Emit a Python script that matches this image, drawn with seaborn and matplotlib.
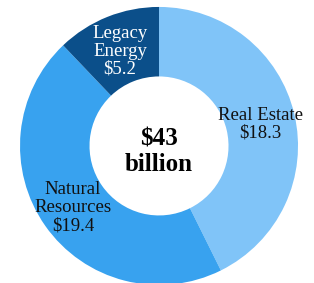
import matplotlib
matplotlib.use("Agg")
import matplotlib.pyplot as plt
import seaborn as sns

# values in $ billion, drawn clockwise from 12 o'clock
sectors = ["Real Estate", "Natural Resources", "Legacy Energy"]
labels  = ["Real Estate\n$18.3", "Natural\nResources\n$19.4", "Legacy\nEnergy\n$5.2"]
values  = [18.3, 19.4, 5.2]
colors  = ["#80C4F8", "#38A2EF", "#0B4F8A"]
total_label = "$43\nbillion"

sns.set_style("white")
plt.rcParams["font.family"] = ["Liberation Serif", "DejaVu Serif"]

fig = plt.figure(figsize=(3.14, 2.83), dpi=100)
ax = fig.add_axes([0, 0, 1, 1])

wedges, _ = ax.pie(
    values, colors=colors, startangle=90, counterclock=False,
    radius=1.0, wedgeprops={"width": 0.5, "linewidth": 0},
)

# label positions / colours per wedge
pos = [(0.73, 0.155), (-0.62, -0.446), (-0.28, 0.68)]
txt_col = ["#111111", "#111111", "white"]
for (x, y), lab, c in zip(pos, labels, txt_col):
    ax.text(x, y, lab, ha="center", va="center", fontsize=13.5,
            color=c, linespacing=1.08)

ax.text(0, -0.04, total_label, ha="center", va="center", fontsize=18,
        fontweight="bold", color="black", linespacing=1.12)

ax.set_xlim(-1.144, 1.115)
ax.set_ylim(-0.986, 1.050)
ax.set_aspect("equal")
ax.axis("off")

fig.savefig("out.png", dpi=100)
plt.close(fig)
